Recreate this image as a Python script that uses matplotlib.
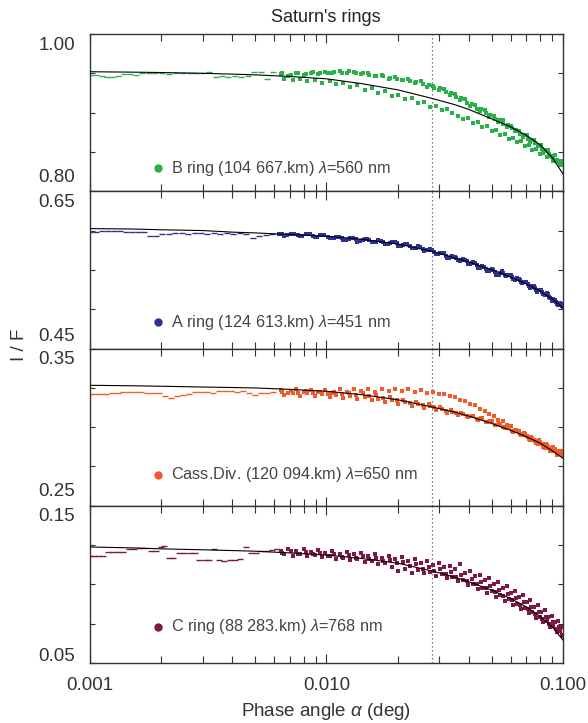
import matplotlib
matplotlib.use('Agg')
from matplotlib import pyplot as plt
from matplotlib.ticker import NullFormatter

plt.rcParams['font.family'] = ['Liberation Sans', 'DejaVu Sans']
plt.rcParams['mathtext.fontset'] = 'custom'
plt.rcParams['mathtext.rm'] = 'Liberation Sans'
plt.rcParams['mathtext.it'] = 'Liberation Sans:italic'

# reference phase angle (dotted line)
alpha_ref = 0.028

# phase grids of the dense part
phase_set1 = [0.0064, 0.0069, 0.0074, 0.0080, 0.0086, 0.0092, 0.0099, 0.0106, 0.0114, 0.0122,
              0.0131, 0.0140, 0.0150, 0.0160, 0.0171, 0.0183, 0.0195, 0.0208, 0.0222, 0.0236,
              0.0251, 0.0266, 0.0282, 0.0298, 0.0315, 0.0332, 0.0350, 0.0368, 0.0387, 0.0406,
              0.0426, 0.0446, 0.0467, 0.0488, 0.0510, 0.0532, 0.0555, 0.0578, 0.0602, 0.0626,
              0.0651, 0.0676, 0.0702, 0.0728, 0.0755, 0.0782, 0.0810, 0.0838, 0.0867, 0.0896,
              0.0925, 0.0955, 0.0985]
phase_set2 = [0.0066, 0.0072, 0.0077, 0.0083, 0.0089, 0.0096, 0.0103, 0.0110, 0.0118, 0.0126,
              0.0135, 0.0145, 0.0155, 0.0165, 0.0177, 0.0189, 0.0201, 0.0215, 0.0229, 0.0243,
              0.0258, 0.0274, 0.0290, 0.0307, 0.0324, 0.0341, 0.0359, 0.0377, 0.0396, 0.0416,
              0.0436, 0.0456, 0.0477, 0.0499, 0.0521, 0.0543, 0.0566, 0.0590, 0.0614, 0.0638,
              0.0663, 0.0689, 0.0715, 0.0741, 0.0768, 0.0796, 0.0824, 0.0852, 0.0881, 0.0910,
              0.0940, 0.0970, 0.0998]
phase_set3 = [0.0065, 0.0071, 0.0076, 0.0082, 0.0088, 0.0094, 0.0101, 0.0108, 0.0116, 0.0124,
              0.0133, 0.0142, 0.0152, 0.0162, 0.0174, 0.0186, 0.0198, 0.0211, 0.0225, 0.0240,
              0.0255, 0.0270, 0.0286, 0.0302, 0.0319, 0.0336, 0.0354, 0.0372, 0.0391, 0.0411,
              0.0431, 0.0451, 0.0472, 0.0493, 0.0515, 0.0537, 0.0560, 0.0584, 0.0608, 0.0632,
              0.0657, 0.0682, 0.0708, 0.0735, 0.0762, 0.0789, 0.0817, 0.0845, 0.0874, 0.0903,
              0.0932, 0.0962, 0.0992]
a_phase_set1 = [0.0063, 0.0068, 0.0073, 0.0079, 0.0085, 0.0091, 0.0098, 0.0105, 0.0113, 0.0121,
                0.0130, 0.0139, 0.0149, 0.0159, 0.0170, 0.0182, 0.0194, 0.0207, 0.0220, 0.0234,
                0.0249, 0.0264, 0.0280, 0.0296, 0.0313, 0.0330, 0.0348, 0.0366, 0.0385, 0.0404,
                0.0424, 0.0444, 0.0465, 0.0486, 0.0508, 0.0530, 0.0553, 0.0576, 0.0600, 0.0624,
                0.0649, 0.0674, 0.0700, 0.0726, 0.0753, 0.0780, 0.0808, 0.0836, 0.0865, 0.0894,
                0.0923, 0.0953, 0.0983]

# --- B ring ---
b_low_phase = [0.00100, 0.00106, 0.00112, 0.00118, 0.00124, 0.00131, 0.00139, 0.00147, 0.00156, 0.00166,
               0.00177, 0.00189, 0.00202, 0.00216, 0.00231, 0.00247, 0.00264, 0.00282, 0.00300, 0.00320,
               0.00340, 0.00362, 0.00385, 0.00410, 0.00436, 0.00465, 0.00495, 0.00527, 0.00560, 0.00596]
b_low_if = [0.948, 0.948, 0.947, 0.945, 0.945, 0.946, 0.949, 0.949, 0.948, 0.950,
            0.950, 0.950, 0.950, 0.949, 0.950, 0.950, 0.951, 0.950, 0.951, 0.952,
            0.945, 0.946, 0.945, 0.947, 0.945, 0.946, 0.952, 0.952, 0.943, 0.952]
b_if_up = [0.949, 0.947, 0.950, 0.948, 0.951, 0.949, 0.952, 0.950, 0.953, 0.950,
           0.952, 0.949, 0.950, 0.946, 0.948, 0.943, 0.945, 0.941, 0.943, 0.938,
           0.940, 0.933, 0.934, 0.929, 0.930, 0.923, 0.924, 0.916, 0.917, 0.909,
           0.910, 0.902, 0.903, 0.895, 0.896, 0.888, 0.890, 0.882, 0.883, 0.876,
           0.877, 0.869, 0.871, 0.863, 0.865, 0.857, 0.859, 0.851, 0.852, 0.844,
           0.846, 0.837, 0.839]
b_if_lo = [0.943, 0.941, 0.943, 0.940, 0.942, 0.938, 0.940, 0.936, 0.938, 0.933,
           0.935, 0.929, 0.931, 0.925, 0.927, 0.921, 0.923, 0.917, 0.919, 0.912,
           0.914, 0.907, 0.909, 0.903, 0.905, 0.899, 0.896, 0.892, 0.893, 0.887,
           0.888, 0.882, 0.883, 0.877, 0.878, 0.872, 0.873, 0.867, 0.868, 0.863,
           0.864, 0.858, 0.859, 0.853, 0.854, 0.848, 0.849, 0.844, 0.845, 0.839,
           0.840, 0.834, 0.836]
b_if_3 = [0.950, 0.948, 0.951, 0.949, 0.952, 0.950, 0.951, 0.952, 0.951, 0.953,
          0.950, 0.951, 0.948, 0.947, 0.946, 0.944, 0.943, 0.942, 0.940, 0.939,
          0.936, 0.935, 0.931, 0.931, 0.926, 0.925, 0.920, 0.918, 0.912, 0.911,
          0.905, 0.904, 0.899, 0.897, 0.892, 0.890, 0.886, 0.884, 0.880, 0.878,
          0.873, 0.872, 0.867, 0.865, 0.861, 0.859, 0.854, 0.852, 0.847, 0.845,
          0.840, 0.838, 0.834]

# --- A ring ---
a_low_phase = [0.00100, 0.00106, 0.00112, 0.00119, 0.00126, 0.00134, 0.00142, 0.00151, 0.00160, 0.00170,
               0.00180, 0.00190, 0.00202, 0.00215, 0.00229, 0.00244, 0.00260, 0.00277, 0.00295, 0.00314,
               0.00334, 0.00356, 0.00379, 0.00404, 0.00430, 0.00458, 0.00488, 0.00520, 0.00554, 0.00590]
a_low_if = [0.598, 0.598, 0.599, 0.600, 0.600, 0.599, 0.598, 0.598, 0.598, 0.598,
            0.593, 0.593, 0.596, 0.596, 0.597, 0.597, 0.596, 0.597, 0.597, 0.596,
            0.597, 0.596, 0.597, 0.596, 0.597, 0.596, 0.591, 0.593, 0.594, 0.596]
a_if_1 = [0.596, 0.594, 0.596, 0.593, 0.595, 0.592, 0.594, 0.590, 0.592, 0.588,
          0.590, 0.587, 0.589, 0.585, 0.587, 0.583, 0.585, 0.581, 0.583, 0.578,
          0.579, 0.575, 0.575, 0.570, 0.571, 0.565, 0.567, 0.561, 0.563, 0.557,
          0.559, 0.552, 0.554, 0.548, 0.550, 0.543, 0.548, 0.542, 0.543, 0.537,
          0.539, 0.533, 0.534, 0.527, 0.529, 0.522, 0.525, 0.518, 0.519, 0.510,
          0.512, 0.505, 0.507]
a_if_2 = [0.593, 0.596, 0.593, 0.595, 0.592, 0.594, 0.590, 0.592, 0.588, 0.590,
          0.586, 0.589, 0.585, 0.588, 0.583, 0.586, 0.581, 0.583, 0.578, 0.580,
          0.574, 0.576, 0.570, 0.572, 0.565, 0.568, 0.562, 0.564, 0.558, 0.560,
          0.553, 0.555, 0.549, 0.551, 0.544, 0.546, 0.543, 0.544, 0.538, 0.540,
          0.534, 0.535, 0.529, 0.530, 0.524, 0.525, 0.519, 0.520, 0.514, 0.513,
          0.506, 0.508, 0.502]
a_if_3 = [0.595, 0.595, 0.594, 0.595, 0.593, 0.594, 0.592, 0.591, 0.590, 0.589,
          0.589, 0.588, 0.588, 0.586, 0.586, 0.584, 0.584, 0.582, 0.581, 0.578,
          0.577, 0.575, 0.573, 0.571, 0.568, 0.566, 0.565, 0.562, 0.561, 0.559,
          0.556, 0.554, 0.551, 0.550, 0.547, 0.544, 0.546, 0.543, 0.541, 0.538,
          0.537, 0.534, 0.532, 0.528, 0.527, 0.524, 0.522, 0.519, 0.516, 0.511,
          0.509, 0.506, 0.504]

# --- Cassini Division ---
cd_low_phase = [0.00100, 0.00105, 0.00111, 0.00117, 0.00124, 0.00131, 0.00138, 0.00146, 0.00155, 0.00164,
                0.00174, 0.00184, 0.00195, 0.00207, 0.00220, 0.00233, 0.00247, 0.00262, 0.00278, 0.00295,
                0.00313, 0.00332, 0.00352, 0.00373, 0.00396, 0.00420, 0.00445, 0.00472, 0.00500, 0.00530,
                0.00562, 0.00596]
cd_low_if = [0.3212, 0.3212, 0.3213, 0.3213, 0.3214, 0.3220, 0.3221, 0.3222, 0.3224, 0.3222,
             0.3216, 0.3216, 0.3214, 0.3195, 0.3188, 0.3200, 0.3203, 0.3210, 0.3222, 0.3222,
             0.3226, 0.3220, 0.3229, 0.3231, 0.3228, 0.3222, 0.3230, 0.3215, 0.3203, 0.3218,
             0.3214, 0.3222]
cd_if_up = [0.3235, 0.3220, 0.3240, 0.3225, 0.3238, 0.3222, 0.3236, 0.3220, 0.3240, 0.3225,
            0.3242, 0.3228, 0.3240, 0.3226, 0.3245, 0.3230, 0.3244, 0.3228, 0.3240, 0.3225,
            0.3236, 0.3218, 0.3225, 0.3208, 0.3212, 0.3195, 0.3192, 0.3172, 0.3168, 0.3148,
            0.3140, 0.3118, 0.3105, 0.3085, 0.3070, 0.3048, 0.3040, 0.3015, 0.3008, 0.2982,
            0.2975, 0.2948, 0.2945, 0.2918, 0.2915, 0.2890, 0.2893, 0.2868, 0.2875, 0.2850,
            0.2858, 0.2835, 0.2845]
cd_if_lo = [0.3205, 0.3218, 0.3200, 0.3215, 0.3195, 0.3212, 0.3190, 0.3205, 0.3185, 0.3200,
            0.3180, 0.3192, 0.3172, 0.3182, 0.3160, 0.3170, 0.3148, 0.3158, 0.3135, 0.3145,
            0.3122, 0.3132, 0.3108, 0.3115, 0.3090, 0.3098, 0.3078, 0.3085, 0.3065, 0.3072,
            0.3048, 0.3055, 0.3030, 0.3038, 0.3012, 0.3020, 0.2992, 0.3000, 0.2970, 0.2978,
            0.2948, 0.2955, 0.2925, 0.2932, 0.2900, 0.2908, 0.2875, 0.2885, 0.2850, 0.2860,
            0.2822, 0.2835, 0.2815]
cd_if_3 = [0.3222, 0.3228, 0.3215, 0.3230, 0.3218, 0.3226, 0.3212, 0.3224, 0.3210, 0.3220,
           0.3205, 0.3215, 0.3195, 0.3205, 0.3185, 0.3192, 0.3170, 0.3175, 0.3155, 0.3160,
           0.3140, 0.3145, 0.3125, 0.3130, 0.3105, 0.3108, 0.3088, 0.3090, 0.3070, 0.3072,
           0.3050, 0.3055, 0.3035, 0.3038, 0.3015, 0.3020, 0.2998, 0.3000, 0.2978, 0.2980,
           0.2958, 0.2960, 0.2935, 0.2940, 0.2912, 0.2918, 0.2890, 0.2895, 0.2868, 0.2872,
           0.2845, 0.2850, 0.2828]

# --- C ring ---
c_low_phase = [0.00100, 0.00104, 0.00108, 0.00113, 0.00119, 0.00125, 0.00131, 0.00138, 0.00146, 0.00154,
               0.00162, 0.00171, 0.00181, 0.00190, 0.00200, 0.00206, 0.00215, 0.00225, 0.00238, 0.00250,
               0.00265, 0.00278, 0.00290, 0.00305, 0.00320, 0.00335, 0.00350, 0.00370, 0.00390, 0.00410,
               0.00430, 0.00455, 0.00480, 0.00505, 0.00530, 0.00560, 0.00590, 0.00620]
c_low_if = [0.1179, 0.1179, 0.1180, 0.1181, 0.1203, 0.1203, 0.1204, 0.1205, 0.1224, 0.1224,
            0.1231, 0.1231, 0.1214, 0.1215, 0.1240, 0.1241, 0.1165, 0.1165, 0.1200, 0.1198,
            0.1202, 0.1201, 0.1154, 0.1154, 0.1154, 0.1227, 0.1155, 0.1150, 0.1152, 0.1156,
            0.1160, 0.1240, 0.1200, 0.1201, 0.1210, 0.1212, 0.1220, 0.1222]
c_if_up = [0.1215, 0.1228, 0.1210, 0.1222, 0.1205, 0.1218, 0.1200, 0.1212, 0.1195, 0.1208,
           0.1190, 0.1202, 0.1182, 0.1195, 0.1168, 0.1180, 0.1160, 0.1172, 0.1150, 0.1162,
           0.1138, 0.1150, 0.1125, 0.1135, 0.1110, 0.1120, 0.1095, 0.1130, 0.1075, 0.1085,
           0.1055, 0.1062, 0.1030, 0.1040, 0.1005, 0.1015, 0.0978, 0.0988, 0.0948, 0.0960,
           0.0920, 0.0930, 0.0888, 0.0900, 0.0855, 0.0868, 0.0822, 0.0835, 0.0790, 0.0800,
           0.0758, 0.0770, 0.0728]
c_if_lo = [0.1190, 0.1180, 0.1192, 0.1178, 0.1188, 0.1172, 0.1180, 0.1160, 0.1170, 0.1152,
           0.1162, 0.1140, 0.1150, 0.1128, 0.1138, 0.1110, 0.1085, 0.1100, 0.1075, 0.1090,
           0.1070, 0.1080, 0.1055, 0.1065, 0.1040, 0.1048, 0.1020, 0.1028, 0.0998, 0.1005,
           0.0972, 0.0980, 0.0948, 0.0955, 0.0920, 0.0930, 0.0895, 0.0905, 0.0868, 0.0878,
           0.0842, 0.0850, 0.0815, 0.0822, 0.0788, 0.0795, 0.0758, 0.0765, 0.0728, 0.0735,
           0.0700, 0.0705, 0.0672]
c_if_3 = [0.1198, 0.1210, 0.1195, 0.1206, 0.1190, 0.1200, 0.1182, 0.1194, 0.1176, 0.1186,
          0.1168, 0.1178, 0.1160, 0.1170, 0.1148, 0.1158, 0.1135, 0.1142, 0.1118, 0.1128,
          0.1100, 0.1112, 0.1085, 0.1096, 0.1068, 0.1080, 0.1046, 0.1058, 0.1024, 0.1035,
          0.1000, 0.1012, 0.0978, 0.0990, 0.0952, 0.0962, 0.0928, 0.0938, 0.0900, 0.0912,
          0.0872, 0.0885, 0.0842, 0.0855, 0.0812, 0.0826, 0.0780, 0.0795, 0.0748, 0.0762,
          0.0714, 0.0728, 0.0680]

# model curves
fit_phase = [0.001, 0.0015, 0.002, 0.003, 0.004, 0.005, 0.007, 0.01, 0.014, 0.02,
             0.028, 0.035, 0.04, 0.05, 0.06, 0.07, 0.08, 0.09, 0.1]
b_fit = [0.952, 0.9515, 0.951, 0.950, 0.949, 0.948, 0.946, 0.943, 0.937, 0.929,
         0.918, 0.910, 0.904, 0.892, 0.882, 0.871, 0.859, 0.843, 0.822]
a_fit = [0.6025, 0.602, 0.601, 0.600, 0.598, 0.597, 0.595, 0.5927, 0.589, 0.583,
         0.5735, 0.565, 0.560, 0.550, 0.541, 0.532, 0.523, 0.513, 0.502]
cd_fit = [0.3266, 0.3263, 0.326, 0.3255, 0.3252, 0.3249, 0.3240, 0.3228, 0.3207, 0.3174,
          0.3128, 0.3095, 0.307, 0.3023, 0.298, 0.2939, 0.2898, 0.285, 0.2802]
c_fit = [0.1238, 0.1232, 0.1226, 0.1220, 0.1215, 0.1211, 0.1200, 0.1186, 0.1165, 0.1135,
         0.1085, 0.1045, 0.1016, 0.0963, 0.0910, 0.0857, 0.0795, 0.0730, 0.0646]

labels = [r'B ring (104 667.km) $\lambda$=560 nm',
          r'A ring (124 613.km) $\lambda$=451 nm',
          r'Cass.Div. (120 094.km) $\lambda$=650 nm',
          r'C ring (88 283.km) $\lambda$=768 nm']
colors = ['#29b04a', '#2e3192', '#f15a29', '#7f1747']
ylims = [(0.80, 1.00), (0.45, 0.65), (0.25, 0.35), (0.05, 0.15)]
ylabels = [('1.00', '0.80'), ('0.65', '0.45'), ('0.35', '0.25'), ('0.15', '0.05')]

panels = [
    (b_low_phase, b_low_if, [(phase_set1, b_if_up), (phase_set2, b_if_lo), (phase_set3, b_if_3)], b_fit),
    (a_low_phase, a_low_if, [(a_phase_set1, a_if_1), (phase_set2, a_if_2), (phase_set3, a_if_3)], a_fit),
    (cd_low_phase, cd_low_if, [(phase_set1, cd_if_up), (phase_set2, cd_if_lo), (phase_set3, cd_if_3)], cd_fit),
    (c_low_phase, c_low_if, [(phase_set1, c_if_up), (phase_set2, c_if_lo), (phase_set3, c_if_3)], c_fit),
]

# layout tweaks (pixels inside each panel)
bottom_label_off = [13.5, 12, 14, 6.5]
legend_y = [0.146, 0.167, 0.196, 0.229]

fig = plt.figure(figsize=(5.88, 7.23), dpi=100)
axes = fig.subplots(4, 1, sharex=True)
fig.subplots_adjust(left=0.153, right=0.9575, top=1 - 34 / 723, bottom=1 - 663 / 723, hspace=0)

for i, ax in enumerate(axes):
    low_p, low_v, dense, fit = panels[i]
    col = colors[i]
    lo, hi = ylims[i]

    ax.plot(low_p, low_v, ls='none', marker='_', ms=5, mew=1.0, color=col, zorder=2)
    for p, v in dense:
        ax.plot(p, v, ls='none', marker='s', ms=2.3, mew=0, color=col, zorder=2)
    ax.plot(fit_phase, fit, color='black', lw=0.8, zorder=3)
    ax.axvline(alpha_ref, color='#555555', ls=(0, (1, 2.2)), lw=0.9, zorder=1)

    ax.set_xscale('log')
    ax.set_xlim(0.001, 0.1)
    ax.set_ylim(lo, hi)
    ax.set_yticks([lo + k * (hi - lo) / 4 for k in range(5)])
    ax.set_yticklabels([])

    ax.tick_params(axis='y', which='major', direction='in', length=3.6, width=0.8,
                   left=True, right=True, colors='#333333')
    ax.tick_params(axis='x', which='major', direction='in', length=6.5, width=0.8,
                   top=True, bottom=True, pad=10, labelsize=13.5, colors='#333333')
    ax.tick_params(axis='x', which='minor', direction='in', length=5, width=0.8,
                   top=True, bottom=True, colors='#333333')
    ax.xaxis.set_minor_formatter(NullFormatter())
    for s in ax.spines.values():
        s.set_linewidth(1.0)
        s.set_color('#333333')

    # y labels only at the ends, set just inside the frame
    top_lab, bot_lab = ylabels[i]
    ax.text(-0.032, 1 - 11 / 157, top_lab, transform=ax.transAxes, ha='right', va='center',
            fontsize=13.5, color='#333333')
    ax.text(-0.032, bottom_label_off[i] / 157, bot_lab, transform=ax.transAxes, ha='right',
            va='center', fontsize=13.5, color='#333333')

    # ring label with a coloured dot
    ax.plot([0.144], [legend_y[i]], marker='o', ms=5, color=col, transform=ax.transAxes, clip_on=False)
    ax.text(0.171, legend_y[i], labels[i], transform=ax.transAxes, va='center', fontsize=11.7,
            color='#444444')

axes[-1].set_xticks([0.001, 0.01, 0.1])
axes[-1].set_xticklabels(['0.001', '0.010', '0.100'])

fig.text(326 / 588, 1 - 18 / 723, "Saturn's rings", ha='center', va='center', fontsize=13,
         color='#222222')
fig.text(326 / 588, 1 - 712 / 723, r'Phase angle $\alpha$ (deg)', ha='center', va='center',
         fontsize=13.5, color='#333333')
fig.text(19 / 588, 1 - 345 / 723, 'I / F', rotation=90, ha='center', va='center', fontsize=13.5,
         color='#333333')

plt.savefig('out.png', dpi=100)
